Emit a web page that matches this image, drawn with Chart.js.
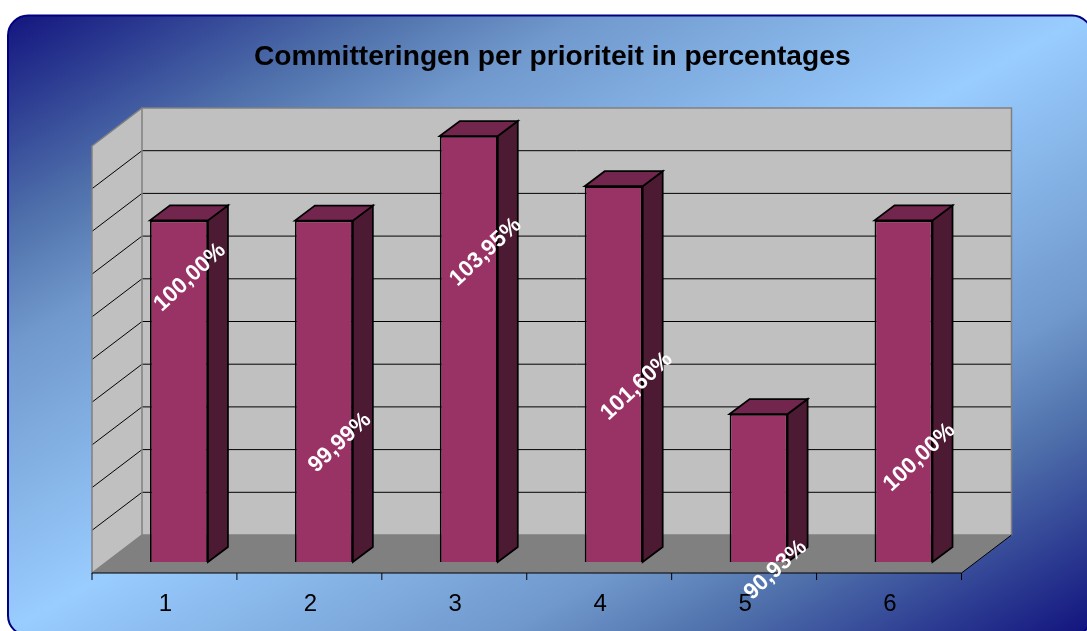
<!DOCTYPE html>
<html>
<head>
<meta charset="utf-8">
<title>Committeringen per prioriteit</title>
<style>
  html, body { margin: 0; padding: 0; background: #fff; overflow: hidden; }
  canvas { display: block; }
</style>
<script src="https://cdn.jsdelivr.net/npm/chart.js@4"></script>
</head>
<body>
<canvas id="chart" width="1087" height="631"></canvas>
<script>
const categories = ["1", "2", "3", "4", "5", "6"];
const percentages = [100.00, 99.99, 103.95, 101.60, 90.93, 100.00];
const gridValues = [84, 86, 88, 90, 92, 94, 96, 98, 100, 102, 104];

const FONT = "'Liberation Sans', Arial, sans-serif";

function poly(ctx, pts, fill, stroke, lw) {
  ctx.beginPath();
  pts.forEach((p, i) => i ? ctx.lineTo(p[0], p[1]) : ctx.moveTo(p[0], p[1]));
  ctx.closePath();
  if (fill) { ctx.fillStyle = fill; ctx.fill(); }
  if (stroke) { ctx.strokeStyle = stroke; ctx.lineWidth = lw || 1; ctx.stroke(); }
}

function line(ctx, x1, y1, x2, y2, color, lw) {
  ctx.beginPath();
  ctx.moveTo(x1, y1);
  ctx.lineTo(x2, y2);
  ctx.strokeStyle = color;
  ctx.lineWidth = lw || 1;
  ctx.stroke();
}

// panel behind everything, gradient runs corner to corner
const panel = {
  id: "panel",
  beforeDraw(chart) {
    const ctx = chart.ctx;
    const g = ctx.createLinearGradient(238, -218, 856, 864);
    g.addColorStop(0.07, "#12147e");
    g.addColorStop(0.22, "#4f70ab");
    g.addColorStop(0.30, "#7098cc");
    g.addColorStop(0.5, "#99ccff");
    g.addColorStop(0.70, "#7098cc");
    g.addColorStop(0.78, "#4f70ab");
    g.addColorStop(0.93, "#12147e");
    ctx.save();
    ctx.beginPath();
    ctx.roundRect(8, 15.5, 1084, 620, 20);
    ctx.fillStyle = g;
    ctx.fill();
    ctx.strokeStyle = "#000080";
    ctx.lineWidth = 2;
    ctx.stroke();
    ctx.restore();
  }
};

// walls, floor and the fake depth of the bars
const depth = {
  id: "depth",
  afterLayout(chart, args, opts) {
    // title sits right of the plot's centre in the original
    chart.titleBlock.left += opts.titleShift;
    chart.titleBlock.right += opts.titleShift;
  },
  beforeDatasetsDraw(chart, args, opts) {
    const ctx = chart.ctx;
    const a = chart.chartArea;
    const y = chart.scales.y;
    const x = chart.scales.x;
    const f = opts.front, b = opts.back;
    const yTop = y.getPixelForValue(gridValues[gridValues.length - 1]);
    const yBot = y.getPixelForValue(gridValues[0]);

    ctx.save();
    // back wall + side wall
    poly(ctx, [[a.left + b.x, yTop + b.y], [a.right + b.x, yTop + b.y], [a.right + b.x, yBot + b.y], [a.left + b.x, yBot + b.y]], "#c0c0c0");
    poly(ctx, [[a.left + f.x, yTop + f.y], [a.left + b.x, yTop + b.y], [a.left + b.x, yBot + b.y], [a.left + f.x, yBot + f.y]], "#c0c0c0");
    // floor
    poly(ctx, [[a.left + f.x, yBot + f.y], [a.right + f.x, yBot + f.y], [a.right + b.x, yBot + b.y], [a.left + b.x, yBot + b.y]], "#808080");

    gridValues.slice(1, -1).forEach(v => {
      const py = y.getPixelForValue(v);
      line(ctx, a.left + b.x, py + b.y, a.right + b.x, py + b.y, "#000");
      line(ctx, a.left + f.x, py + f.y, a.left + b.x, py + b.y, "#000");
    });

    // wall outlines
    poly(ctx, [[a.left + f.x, yTop + f.y], [a.left + b.x, yTop + b.y], [a.right + b.x, yTop + b.y], [a.right + b.x, yBot + b.y], [a.left + b.x, yBot + b.y], [a.left + f.x, yBot + f.y]], null, "#808080", 1.5);
    line(ctx, a.left + b.x, yTop + b.y, a.left + b.x, yBot + b.y, "#808080", 1.5);

    // front axis and its ticks
    line(ctx, a.left + f.x, yBot + f.y, a.right + f.x, yBot + f.y, "#000");
    line(ctx, a.right + f.x, yBot + f.y, a.right + b.x, yBot + b.y, "#000");
    const step = (a.right - a.left) / categories.length;
    for (let i = 0; i <= categories.length; i++) {
      const tx = x.getPixelForValue(i) - step / 2 + f.x;
      line(ctx, tx, yBot + f.y, tx, yBot + f.y + 7, "#000");
    }

    // side and top of each bar
    chart.getDatasetMeta(0).data.forEach(bar => {
      const l = bar.x - bar.width / 2, r = bar.x + bar.width / 2;
      poly(ctx, [[r, bar.y], [r + opts.bar.x, bar.y + opts.bar.y], [r + opts.bar.x, bar.base + opts.bar.y], [r, bar.base]], "#4c1a33", "#000", 1.75);
      poly(ctx, [[l, bar.y], [l + opts.bar.x, bar.y + opts.bar.y], [r + opts.bar.x, bar.y + opts.bar.y], [r, bar.y]], "#73264d", "#000", 1.75);
    });
    ctx.restore();
  },
  afterDatasetsDraw(chart, args, opts) {
    const ctx = chart.ctx;
    ctx.save();
    ctx.font = "bold 22.5px " + FONT;
    ctx.fillStyle = "#fff";
    ctx.textAlign = "center";
    ctx.textBaseline = "middle";
    chart.getDatasetMeta(0).data.forEach((bar, i) => {
      const n = opts.labelNudge[i];
      ctx.save();
      ctx.translate(bar.x + n[0], bar.y + n[1]);
      ctx.rotate(-43 * Math.PI / 180);
      ctx.fillText(percentages[i].toFixed(2).replace(".", ",") + "%", 0, 0);
      ctx.restore();
    });
    ctx.restore();
  }
};

new Chart(document.getElementById("chart"), {
  type: "bar",
  data: {
    labels: categories,
    datasets: [{
      data: percentages,
      base: gridValues[0],
      backgroundColor: "#993366",
      borderColor: "#000",
      borderWidth: 1.75,
      barPercentage: 0.4,
      categoryPercentage: 1
    }]
  },
  options: {
    responsive: false,
    animation: false,
    layout: { padding: { left: 106.5, right: 111, top: 0, bottom: 0 } },
    plugins: {
      legend: { display: false },
      tooltip: { enabled: false },
      title: {
        display: true,
        text: "Committeringen per prioriteit in percentages",
        color: "#000",
        font: { family: FONT, size: 28.2, weight: "bold", lineHeight: 1 },
        padding: { top: 43, bottom: 63.8 }
      },
      depth: {
        titleShift: 11,
        front: { x: -14.5, y: 11 },
        back: { x: 35.5, y: -27 },
        bar: { x: 20, y: -15 },
        labelNudge: [[11, 57], [16, 222], [17, 116], [23, 200], [17, 156], [16, 237]]
      }
    },
    scales: {
      x: {
        grid: { display: false },
        border: { display: false },
        ticks: { color: "#000", font: { family: FONT, size: 24 }, padding: 20, labelOffset: -13.5, maxRotation: 0 },
        afterFit(axis) { axis.height = 69; }
      },
      y: {
        display: false,
        min: gridValues[0],
        max: gridValues[gridValues.length - 1],
        ticks: { stepSize: 2 }
      }
    }
  },
  plugins: [panel, depth]
});
</script>
</body>
</html>
